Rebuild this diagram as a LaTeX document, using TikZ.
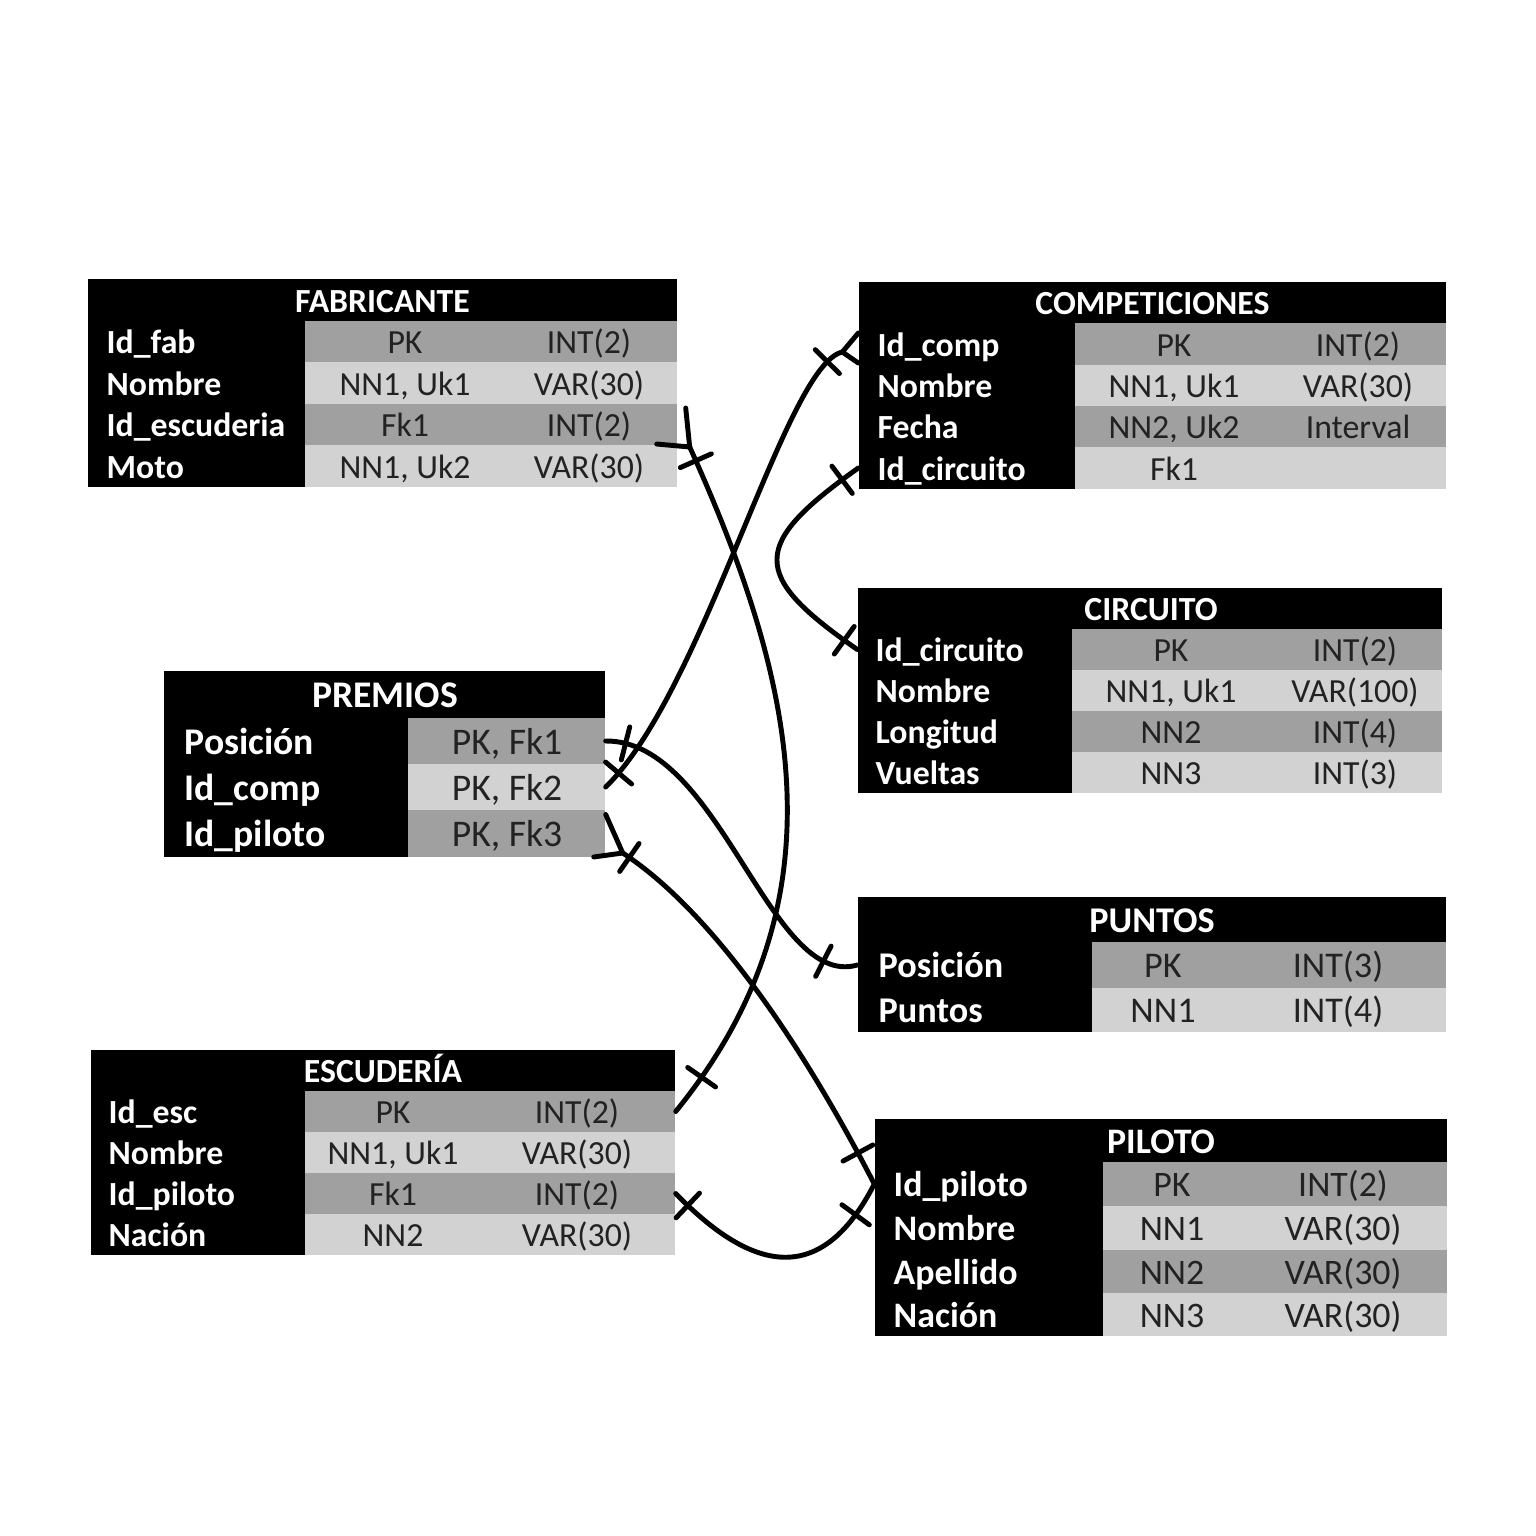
\documentclass[tikz,border=0pt]{standalone}
\usepackage{fontspec}
\setmainfont{Carlito}
\usetikzlibrary{fit,decorations.markings}
\definecolor{cdk}{RGB}{160,160,160}
\definecolor{clt}{RGB}{210,210,210}
\definecolor{ctx}{RGB}{34,34,34}
\def\TBset#1#2#3#4#5#6#7#8{\def\TBx{#1}\def\TBX{#2}\def\TBg{#3}\def\TBl{#4}\def\TBa{#5}\def\TBb{#6}\def\TBo{#7}\def\TBf{\fontsize{#8}{#8}\selectfont}}
\newcommand\trow[7]{%
  \fill[#4] (\TBg,#2) rectangle (\TBX,#3);
  \node[rowbox, fit={(\TBx,#2) (\TBX,#3)}] (#1) {};
  \node[lab] (#1l) at (\TBl,{(#2+#3)/2+\TBo}) {#5};
  \node[val] (#1a) at (\TBa,{(#2+#3)/2+\TBo}) {#6};
  \node[val] (#1b) at (\TBb,{(#2+#3)/2+\TBo}) {#7};
}
\tikzset{
  conn/.style={line width=1.4pt, line cap=round, line join=round},
  rowbox/.style={inner sep=0pt, draw=none},
  lab/.style={text=white, font=\TBf\bfseries, inner sep=0pt, anchor=base west},
  val/.style={text=ctx, font=\TBf, inner sep=0pt, anchor=base},
  ttl/.style={text=white, font=\TBf\bfseries, inner sep=0pt, anchor=base},
  xbars/.style 2 args={postaction={decorate, decoration={markings,
      mark=at position #1 with {\draw[conn] (0,-17)--(0,17);},
      mark=at position #2 with {\draw[conn] (0,-17)--(0,17);}}}}
}
\begin{document}
\begin{tikzpicture}[x=0.01cm, y=-0.01cm]
\useasboundingbox (0,0) rectangle (1536,1536);
\fill[white] (0,0) rectangle (1536,1536);

% FABRICANTE
\TBset{88}{677}{305}{106}{405}{589}{12}{9.6}
\fill[black] (88,279) rectangle (677,487);
\node[ttl] (fabT) at (382.5,{300+\TBo}) {FABRICANTE};
\trow{fab1}{321}{362}{cdk}{Id\_fab}{PK}{INT(2)}
\trow{fab2}{362}{404}{clt}{Nombre}{NN1, Uk1}{VAR(30)}
\trow{fab3}{404}{445}{cdk}{Id\_escuderia}{Fk1}{INT(2)}
\trow{fab4}{445}{487}{clt}{Moto}{NN1, Uk2}{VAR(30)}

% COMPETICIONES
\TBset{859}{1446}{1075}{877}{1174}{1358}{12}{9.6}
\fill[black] (859,282) rectangle (1446,489);
\node[ttl] (compT) at (1152.5,{302.5+\TBo}) {COMPETICIONES};
\trow{comp1}{323}{365}{cdk}{Id\_comp}{PK}{INT(2)}
\trow{comp2}{365}{406}{clt}{Nombre}{NN1, Uk1}{VAR(30)}
\trow{comp3}{406}{447}{cdk}{Fecha}{NN2, Uk2}{Interval}
\trow{comp4}{447}{489}{clt}{Id\_circuito}{Fk1}{}

% CIRCUITO
\TBset{858}{1442}{1072}{875}{1171}{1355}{12}{9.6}
\fill[black] (858,588) rectangle (1442,793);
\node[ttl] (circT) at (1151,{608.5+\TBo}) {CIRCUITO};
\trow{circ1}{629}{670}{cdk}{Id\_circuito}{PK}{INT(2)}
\trow{circ2}{670}{711}{clt}{Nombre}{NN1, Uk1}{VAR(100)}
\trow{circ3}{711}{752}{cdk}{Longitud}{NN2}{INT(4)}
\trow{circ4}{752}{793}{clt}{Vueltas}{NN3}{INT(3)}

% PREMIOS
\TBset{164}{605}{408}{184}{507}{507}{13}{10.7}
\fill[black] (164,671) rectangle (605,857);
\node[ttl] (premT) at (385,{694.5+\TBo}) {PREMIOS};
\trow{prem1}{718}{764}{cdk}{Posición}{PK, Fk1}{}
\trow{prem2}{764}{810}{clt}{Id\_comp}{PK, Fk2}{}
\trow{prem3}{810}{857}{cdk}{Id\_piloto}{PK, Fk3}{}

% PUNTOS
\TBset{858}{1446}{1092}{878}{1163}{1338}{12.8}{10.3}
\fill[black] (858,897) rectangle (1446,1032);
\node[ttl] (puntT) at (1152,{919.5+\TBo}) {PUNTOS};
\trow{punt1}{942}{988}{cdk}{Posición}{PK}{INT(3)}
\trow{punt2}{988}{1032}{clt}{Puntos}{NN1}{INT(4)}

% ESCUDERIA
\TBset{91}{675}{305}{108}{393}{577}{12}{9.6}
\fill[black] (91,1050) rectangle (675,1255);
\node[ttl] (escT) at (383,{1070.5+\TBo}) {ESCUDERÍA};
\trow{esc1}{1091}{1132}{cdk}{Id\_esc}{PK}{INT(2)}
\trow{esc2}{1132}{1173}{clt}{Nombre}{NN1, Uk1}{VAR(30)}
\trow{esc3}{1173}{1214}{cdk}{Id\_piloto}{Fk1}{INT(2)}
\trow{esc4}{1214}{1255}{clt}{Nación}{NN2}{VAR(30)}

% PILOTO
\TBset{875}{1447}{1103}{893}{1172}{1343}{12.5}{10.2}
\fill[black] (875,1119) rectangle (1447,1336);
\node[ttl] (pilT) at (1161,{1140.5+\TBo}) {PILOTO};
\trow{pil1}{1162}{1206}{cdk}{Id\_piloto}{PK}{INT(2)}
\trow{pil2}{1206}{1250}{clt}{Nombre}{NN1}{VAR(30)}
\trow{pil3}{1250}{1293}{cdk}{Apellido}{NN2}{VAR(30)}
\trow{pil4}{1293}{1336}{clt}{Nación}{NN3}{VAR(30)}

% connectors
% FABRICANTE.Id_escuderia -- ESCUDERIA.Id_esc
\draw[conn] ([shift={(8,-16.5)}]fab3.east) -- ([shift={(12,22.5)}]fab3.east) -- ([shift={(-21,19.5)}]fab3.east);
\draw[conn, xbars={0.15cm}{-0.43cm}] ([shift={(12,22.5)}]fab3.east) .. controls (795,680) and (848,900) .. (esc1.east);

% COMPETICIONES.Id_comp -- PREMIOS.Id_comp
\draw[conn] ([shift={(0,-11)}]comp1.west) -- ([shift={(-16,8)}]comp1.west) -- ([shift={(0,19)}]comp1.west);
\draw[conn, xbars={0.18cm}{-0.19cm}] ([shift={(-16,8)}]comp1.west) .. controls (785,365) and (705,690) .. (prem2.east);

% COMPETICIONES.Id_circuito -- CIRCUITO.Id_circuito
\draw[conn, xbars={0.2cm}{-0.16cm}] (comp4.west) .. controls (750,545) and (750,575) .. (circ1.west);

% PREMIOS.Posicion -- PUNTOS.Posicion
\draw[conn, xbars={0.2cm}{-0.35cm}] (prem1.east) .. controls (720,740) and (770,990) .. (punt1.west);

% PREMIOS.Id_piloto -- PILOTO.Id_piloto
\draw[conn] ([shift={(0,-19)}]prem3.east) -- ([shift={(17,19.5)}]prem3.east) -- ([shift={(-12,23.5)}]prem3.east);
\draw[conn, xbars={0.08cm}{-0.35cm}] ([shift={(17,19.5)}]prem3.east) .. controls (710,910) and (800,1040) .. (pil1.west);

% ESCUDERIA.Id_piloto -- PILOTO.Id_piloto
\draw[conn, xbars={0.17cm}{-0.36cm}] (esc3.east) .. controls (750,1270) and (820,1290) .. (pil1.west);
\end{tikzpicture}
\end{document}
